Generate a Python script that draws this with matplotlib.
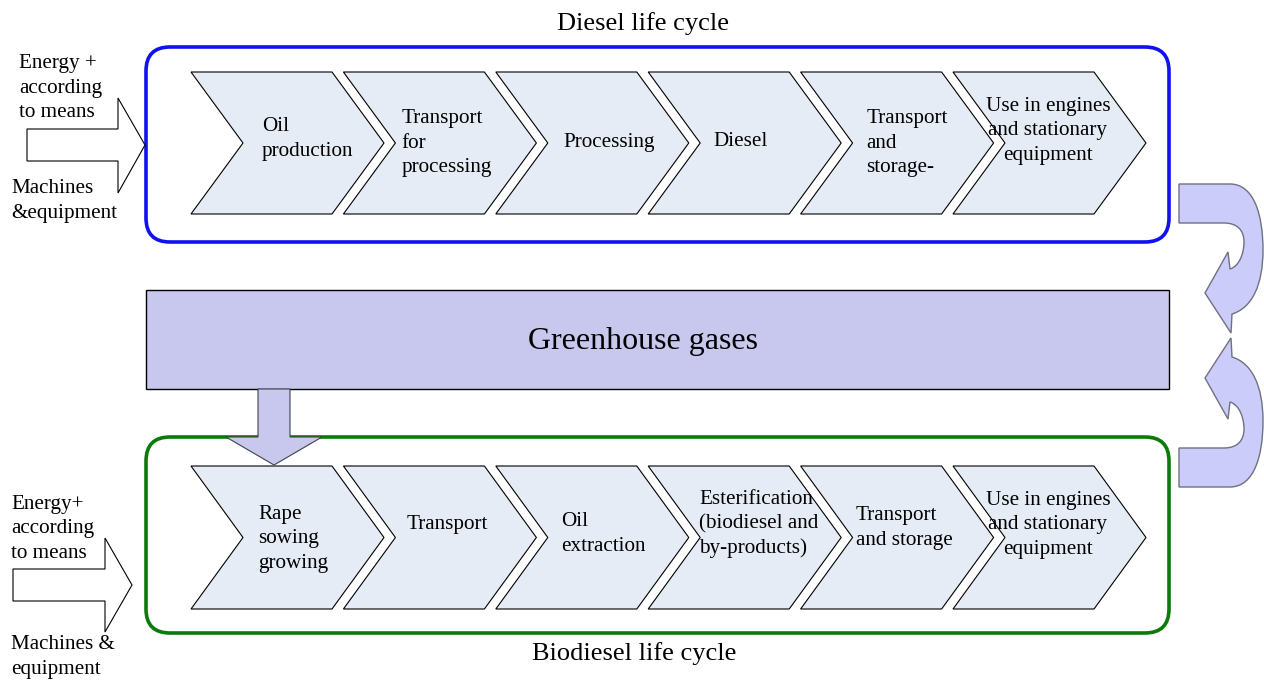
import matplotlib
matplotlib.use("Agg")
import matplotlib.pyplot as plt
from matplotlib.patches import FancyBboxPatch, Polygon, Rectangle, PathPatch
from matplotlib.path import Path

# ---------------------------------------------------------------------------
# Diagram content
# ---------------------------------------------------------------------------
diesel_stages = [
    "Oil\nproduction",
    "Transport\nfor\nprocessing",
    "Processing",
    "Diesel",
    "Transport\nand\nstorage-",
    "Use in engines\nand stationary\nequipment",
]
biodiesel_stages = [
    "Rape\nsowing\ngrowing",
    "Transport",
    "Oil\nextraction",
    "Esterification\n(biodiesel and\nby-products)",
    "Transport\nand storage",
    "Use in engines\nand stationary\nequipment",
]
# label anchor offsets inside each chevron (left x offset, centre y)
diesel_text_dx = [71, 58, 68, 65, 66, 95]
biodiesel_text_dx = [67, 63, 65, 51, 55, 95]
diesel_text_y = [139, 143, 142, 142, 143, 131]
biodiesel_text_y = [539, 524, 534, 524, 528, 525]

top_title = "Diesel life cycle"
bottom_title = "Biodiesel life cycle"
middle_label = "Greenhouse gases"
top_inputs = ["Energy +\naccording\nto means", "Machines\n&equipment"]
bottom_inputs = ["Energy+\naccording\nto means", "Machines &\nequipment"]

SERIF = "Liberation Serif"
CHEVRON_FILL = "#e6ecf6"
LAVENDER = "#c8c8ee"
ARROW_FILL = "#ccccfa"
FS = 15.2
LS = 1.36

W, H = 1264, 680
fig = plt.figure(figsize=(W / 100, H / 100), dpi=100)
ax = fig.add_axes([0, 0, 1, 1])
ax.set_xlim(0, W)
ax.set_ylim(H, 0)
ax.axis("off")


def chevron(x0, y0, y1, w=141, d=52):
    ym = (y0 + y1) / 2
    pts = [(x0, y0), (x0 + w, y0), (x0 + w + d, ym), (x0 + w, y1), (x0, y1), (x0 + d, ym)]
    ax.add_patch(Polygon(pts, closed=True, facecolor=CHEVRON_FILL,
                         edgecolor="black", linewidth=0.8, zorder=3))


def stage_row(labels, dxs, ys, y0, y1, x_start=191, step=152.4):
    for i, (lab, dx, ty) in enumerate(zip(labels, dxs, ys)):
        x0 = x_start + i * step
        chevron(x0, y0, y1)
        centred = i == len(labels) - 1
        ax.text(x0 + dx, ty, lab,
                ha="center" if centred else "left", va="center",
                multialignment="center" if centred else "left",
                fontsize=FS, family=SERIF, linespacing=LS, zorder=4)


def block_arrow(x0, x1, xh, ys0, ys1, yh0, yh1):
    ym = (ys0 + ys1) / 2
    pts = [(x0, ys0), (x1, ys0), (x1, yh0), (xh, ym), (x1, yh1), (x1, ys1), (x0, ys1)]
    ax.add_patch(Polygon(pts, closed=True, facecolor="white",
                         edgecolor="black", linewidth=0.8, zorder=2))


def curved_arrow(flip=False, axis_y=335.5):
    verts = [
        (1179, 184), (1230, 184),
        (1254, 184), (1263, 215), (1263, 250),
        (1263, 285), (1252, 308), (1232, 314),
        (1231, 333), (1205, 293), (1228, 252), (1230, 269),
        (1240, 266), (1244, 252), (1244, 242),
        (1244, 230), (1237, 223), (1224, 223),
        (1179, 223), (1179, 184),
    ]
    codes = [Path.MOVETO, Path.LINETO,
             Path.CURVE4, Path.CURVE4, Path.CURVE4,
             Path.CURVE4, Path.CURVE4, Path.CURVE4,
             Path.LINETO, Path.LINETO, Path.LINETO, Path.LINETO,
             Path.CURVE4, Path.CURVE4, Path.CURVE4,
             Path.CURVE4, Path.CURVE4, Path.CURVE4,
             Path.LINETO, Path.CLOSEPOLY]
    if flip:
        verts = [(x, 2 * axis_y - y) for x, y in verts]
    ax.add_patch(PathPatch(Path(verts, codes), facecolor=ARROW_FILL,
                           edgecolor="#707080", linewidth=1.0, zorder=2))


# lifecycle frames
ax.add_patch(FancyBboxPatch((146, 47), 1023, 195,
                            boxstyle="round,pad=0,rounding_size=24",
                            facecolor="white", edgecolor="#1010f0", linewidth=2.6, zorder=1))
ax.add_patch(FancyBboxPatch((146, 437), 1023, 196,
                            boxstyle="round,pad=0,rounding_size=24",
                            facecolor="white", edgecolor="#0a7a0a", linewidth=2.6, zorder=1))

stage_row(diesel_stages, diesel_text_dx, diesel_text_y, 72, 214)
stage_row(biodiesel_stages, biodiesel_text_dx, biodiesel_text_y, 466, 609)

# greenhouse gases band
ax.add_patch(Rectangle((146, 290), 1023, 99, facecolor=LAVENDER,
                       edgecolor="black", linewidth=1.0, zorder=2))
ax.text(643, 342, middle_label, ha="center", va="center",
        fontsize=23, family=SERIF, zorder=4)

# arrow from greenhouse band into biodiesel cycle
down = [(258, 389), (290, 389), (290, 437), (322, 437), (274, 465),
        (226, 437), (258, 437)]
ax.add_patch(Polygon(down, closed=True, facecolor=LAVENDER,
                     edgecolor="#404050", linewidth=0.8, zorder=5))

# input arrows on the left
block_arrow(27, 118, 145, 129, 161, 98, 193)
block_arrow(13, 105, 132, 569, 601, 538, 632)

ax.text(19, 88, top_inputs[0], ha="left", va="center", fontsize=FS,
        family=SERIF, linespacing=LS)
ax.text(11, 201, top_inputs[1], ha="left", va="center", fontsize=FS,
        family=SERIF, linespacing=LS)
ax.text(11, 529, bottom_inputs[0], ha="left", va="center", fontsize=FS,
        family=SERIF, linespacing=LS)
ax.text(11, 657, bottom_inputs[1], ha="left", va="center", fontsize=FS,
        family=SERIF, linespacing=LS)

# recycling arrows on the right
curved_arrow()
curved_arrow(flip=True)

# titles
ax.text(643, 24, top_title, ha="center", va="center", fontsize=19, family=SERIF)
ax.text(634, 654, bottom_title, ha="center", va="center", fontsize=19, family=SERIF)

fig.savefig("out.png", dpi=100)
